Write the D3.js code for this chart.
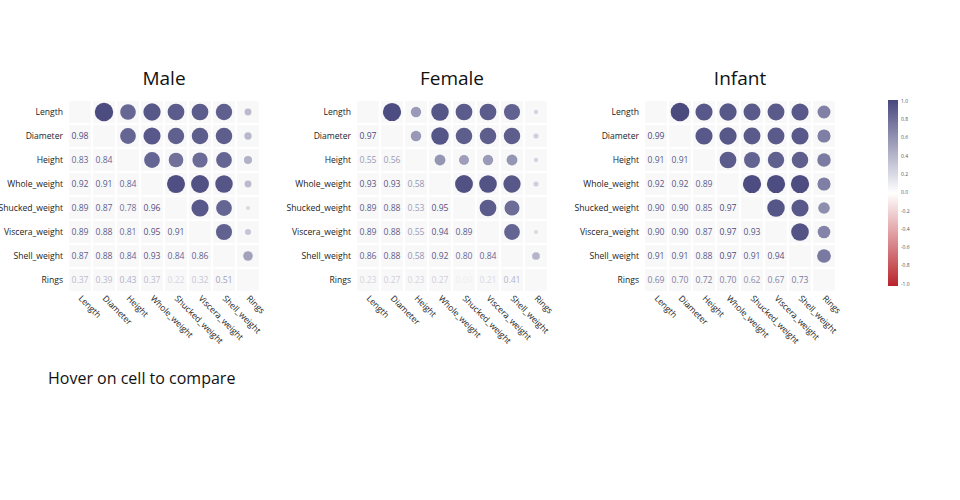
<!DOCTYPE html>
<html><head><meta charset="utf-8">
<script src="https://cdn.jsdelivr.net/npm/d3@7"></script>
<style>body{margin:0;background:#fff}svg{display:block;font-family:"Open Sans",sans-serif}</style>
</head><body><svg id="c" width="960" height="500"></svg>
<script>
const variables = ["Length","Diameter","Height","Whole_weight","Shucked_weight","Viscera_weight","Shell_weight","Rings"];
const groups = ["Male","Female","Infant"];
// lower-triangle correlations (row i, columns 0..i-1)
const maleLower = [
  [],
  [0.98],
  [0.83,0.84],
  [0.92,0.91,0.84],
  [0.89,0.87,0.78,0.96],
  [0.89,0.88,0.81,0.95,0.91],
  [0.87,0.88,0.84,0.93,0.84,0.86],
  [0.37,0.39,0.43,0.37,0.22,0.32,0.51]
];
const femaleLower = [
  [],
  [0.97],
  [0.55,0.56],
  [0.93,0.93,0.58],
  [0.89,0.88,0.53,0.95],
  [0.89,0.88,0.55,0.94,0.89],
  [0.86,0.88,0.58,0.92,0.80,0.84],
  [0.23,0.27,0.23,0.27,0.09,0.21,0.41]
];
const infantLower = [
  [],
  [0.99],
  [0.91,0.91],
  [0.92,0.92,0.89],
  [0.90,0.90,0.85,0.97],
  [0.90,0.90,0.87,0.97,0.93],
  [0.91,0.91,0.88,0.97,0.91,0.94],
  [0.69,0.70,0.72,0.70,0.62,0.67,0.73]
];
const legendTicks = [1.0,0.8,0.6,0.4,0.2,0.0,-0.2,-0.4,-0.6,-0.8,-1.0];
const matrices = [maleLower, femaleLower, infantLower];

const svg = d3.select("#c");
const color = d3.scaleLinear().domain([-1,0,1]).range(["#b8242b","#ffffff","#48487e"]);
const rScale = d3.scaleLinear().domain([0,1]).range([0,9.4]);
const gridLefts = [68,356,644];
const gridTop = 100;
const pitch = 24;
const fs = 8.6;

matrices.forEach((low, gi) => {
  const x = d3.scaleBand().domain(variables).range([gridLefts[gi], gridLefts[gi]+pitch*8]).paddingInner(0.1).paddingOuter(0.05);
  const y = d3.scaleBand().domain(variables).range([gridTop, gridTop+pitch*8]).paddingInner(0.1).paddingOuter(0.05);
  const g = svg.append("g");
  const cells = [];
  variables.forEach((rv, i) => variables.forEach((cv, j) => {
    let v = null;
    if (i > j) v = low[i][j]; else if (j > i) v = low[j][i];
    cells.push({rv, cv, i, j, v});
  }));
  g.selectAll("rect").data(cells).join("rect")
    .attr("x", d => x(d.cv)).attr("y", d => y(d.rv))
    .attr("width", x.bandwidth()).attr("height", y.bandwidth())
    .attr("fill", "#f8f8f8");
  g.selectAll("circle").data(cells.filter(d => d.j > d.i)).join("circle")
    .attr("cx", d => x(d.cv) + x.bandwidth()/2)
    .attr("cy", d => y(d.rv) + y.bandwidth()/2)
    .attr("r", d => rScale(Math.abs(d.v)))
    .attr("fill", d => color(d.v));
  g.selectAll("text.val").data(cells.filter(d => d.i > d.j)).join("text")
    .attr("class","val")
    .attr("x", d => x(d.cv) + x.bandwidth()/2)
    .attr("y", d => y(d.rv) + y.bandwidth()/2)
    .attr("dy","0.35em").attr("text-anchor","middle")
    .attr("font-size", fs).attr("fill", d => color(d.v))
    .text(d => d.v.toFixed(2));
  // y labels
  g.selectAll("text.yl").data(variables).join("text")
    .attr("class","yl")
    .attr("x", gridLefts[gi] - 5)
    .attr("y", d => y(d) + y.bandwidth()/2)
    .attr("dy","0.35em").attr("text-anchor","end")
    .attr("font-size", fs).attr("fill","#222")
    .text(d => d);
  // x labels
  g.selectAll("text.xl").data(variables).join("text")
    .attr("class","xl")
    .attr("transform", d => `translate(${x(d) + x.bandwidth()/2 - 2},${gridTop + pitch*8 + 7}) rotate(45)`)
    .attr("text-anchor","start")
    .attr("font-size", fs).attr("fill","#222")
    .text(d => d);
  // title
  svg.append("text")
    .attr("x", gridLefts[gi] + pitch*4).attr("y", 85)
    .attr("text-anchor","middle").attr("font-size", 19).attr("fill","#111")
    .text(groups[gi]);
});

// colour bar
const defs = svg.append("defs");
const grad = defs.append("linearGradient").attr("id","cb").attr("x1",0).attr("y1",0).attr("x2",0).attr("y2",1);
d3.range(0, 1.0001, 0.1).forEach(t => {
  grad.append("stop").attr("offset", t).attr("stop-color", color(1 - 2*t));
});
svg.append("rect").attr("x",888).attr("y",100).attr("width",10).attr("height",186).attr("fill","url(#cb)");
const ly = d3.scaleLinear().domain([1,-1]).range([101,284]);
svg.selectAll("text.lt").data(legendTicks).join("text")
  .attr("class","lt").attr("x",901).attr("y", d => ly(d)).attr("dy","0.35em")
  .attr("font-size",5).attr("fill","#555")
  .text(d => d.toFixed(1));

svg.append("text").attr("x",48).attr("y",384).attr("font-size",16).attr("fill","#111")
  .text("Hover on cell to compare");
</script></body></html>
